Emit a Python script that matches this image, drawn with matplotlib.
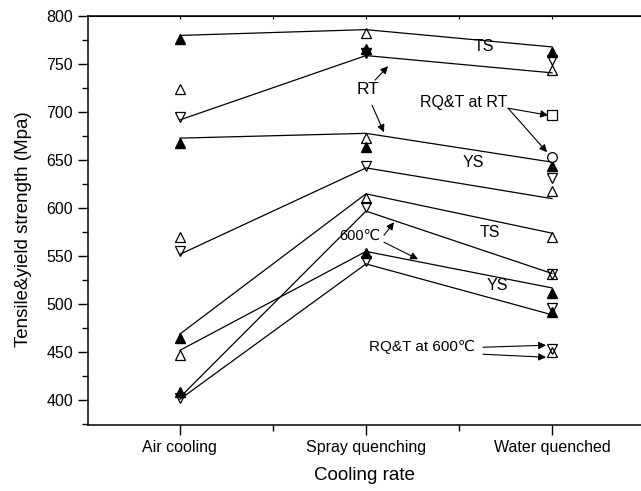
import matplotlib.pyplot as plt
from matplotlib.ticker import MultipleLocator

plt.rcParams['font.family'] = ['Liberation Sans', 'DejaVu Sans']

categories = ['Air cooling', 'Spray quenching', 'Water quenched']
pos = [1, 2, 3]

# connecting lines (Air, Spray, Water)
ts_rt_a = [780, 786, 768]
ts_rt_b = [692, 759, 741]
ys_rt_a = [673, 678, 648]
ys_rt_b = [552, 642, 610]
ts_600_a = [469, 615, 574]
ys_600_a = [452, 555, 517]
ts_600_b = [403, 597, 532]
ys_600_b = [401, 542, 489]
lines = [ts_rt_a, ts_rt_b, ys_rt_a, ys_rt_b, ts_600_a, ys_600_a, ts_600_b, ys_600_b]

# markers: category index + value
filled_up_x = [1, 1, 1, 1, 2, 2, 2, 3, 3, 3, 3]
filled_up_y = [776, 668, 465, 409, 766, 664, 553, 763, 644, 512, 492]
filled_down_x = [2]
filled_down_y = [762]
open_up_x = [1, 1, 1, 2, 2, 2, 3, 3, 3, 3, 3]
open_up_y = [724, 570, 447, 783, 673, 611, 744, 618, 570, 531, 450]
open_down_x = [1, 1, 1, 2, 2, 2, 3, 3, 3, 3, 3]
open_down_y = [695, 555, 402, 644, 601, 545, 754, 631, 531, 496, 453]
square_x, square_y = [3], [697]
circle_x, circle_y = [3], [653]

fig = plt.figure(figsize=(6.41, 4.91), dpi=100)
ax = fig.add_axes([0.137, 0.134, 0.863, 0.833])

for ln in lines:
    ax.plot(pos, ln, color='black', lw=0.9, zorder=2)

ms = 7.5
ax.plot(filled_up_x, filled_up_y, '^', ms=ms, mfc='black', mec='black', ls='none', zorder=3)
ax.plot(filled_down_x, filled_down_y, 'v', ms=ms, mfc='black', mec='black', ls='none', zorder=3)
ax.plot(open_up_x, open_up_y, '^', ms=ms, mfc='none', mec='black', mew=0.9, ls='none', zorder=3)
ax.plot(open_down_x, open_down_y, 'v', ms=ms, mfc='none', mec='black', mew=0.9, ls='none', zorder=3)
ax.plot(square_x, square_y, 's', ms=6.5, mfc='white', mec='black', mew=0.9, ls='none', zorder=3)
ax.plot(circle_x, circle_y, 'o', ms=7, mfc='white', mec='black', mew=0.9, ls='none', zorder=3)

ax.set_xlim(0.505, 3.478)
ax.set_ylim(374, 800)
ax.set_xticks(pos)
ax.set_xticklabels(categories)
ax.xaxis.set_minor_locator(MultipleLocator(0.5))
ax.yaxis.set_major_locator(MultipleLocator(50))
ax.yaxis.set_minor_locator(MultipleLocator(25))
ax.tick_params(axis='both', labelsize=11.5)
ax.tick_params(which='major', direction='out', length=7, width=1)
ax.tick_params(which='minor', direction='out', length=4.5, width=1)
ax.spines['right'].set_visible(False)
for s in ['left', 'bottom', 'top']:
    ax.spines[s].set_linewidth(1.1)

# small inward ticks on the top spine
top = ax.secondary_xaxis('top')
top.set_xticks(pos)
top.set_xticklabels([])
top.xaxis.set_minor_locator(MultipleLocator(0.5))
top.tick_params(which='both', direction='in', length=2.5, width=0.8)

ax.set_xlabel('Cooling rate', fontsize=13.5, labelpad=9)
ax.set_ylabel('Tensile&yield strength (Mpa)', fontsize=13.5)
ax.yaxis.set_label_coords(-0.1, 0.48)

def px(x, y):
    return (1 + (x - 180) / 186.0, 800 - (y - 16) / 0.96)

arrow = dict(arrowstyle='-|>', color='black', lw=0.8, mutation_scale=11, shrinkA=0, shrinkB=0)

def arr(p0, p1):
    ax.annotate('', xy=px(*p1), xytext=px(*p0), arrowprops=arrow)

ax.text(*px(484, 46), 'TS', fontsize=11.5, ha='center', va='center')
ax.text(*px(368, 89), 'RT', fontsize=12.5, ha='center', va='center')
arr((375, 80), (388, 66))
arr((372, 105), (384, 132))
ax.text(*px(420, 102), 'RQ&T at RT', fontsize=11.5, ha='left', va='center')
arr((508, 108), (548, 115))
arr((508, 108), (547, 152))
ax.text(*px(473, 162), 'YS', fontsize=11.5, ha='center', va='center')
ax.text(*px(490, 232), 'TS', fontsize=11.5, ha='center', va='center')
ax.text(*px(360, 236), '600\u2103', fontsize=10.5, ha='center', va='center')
arr((384, 235), (394, 222))
arr((384, 242), (418, 259))
ax.text(*px(497, 285), 'YS', fontsize=11.5, ha='center', va='center')
ax.text(*px(369, 347), 'RQ&T at 600\u2103', fontsize=11, ha='left', va='center')
arr((483, 347), (546, 345))
arr((483, 354), (546, 357))

fig.savefig('out.png', dpi=100)
